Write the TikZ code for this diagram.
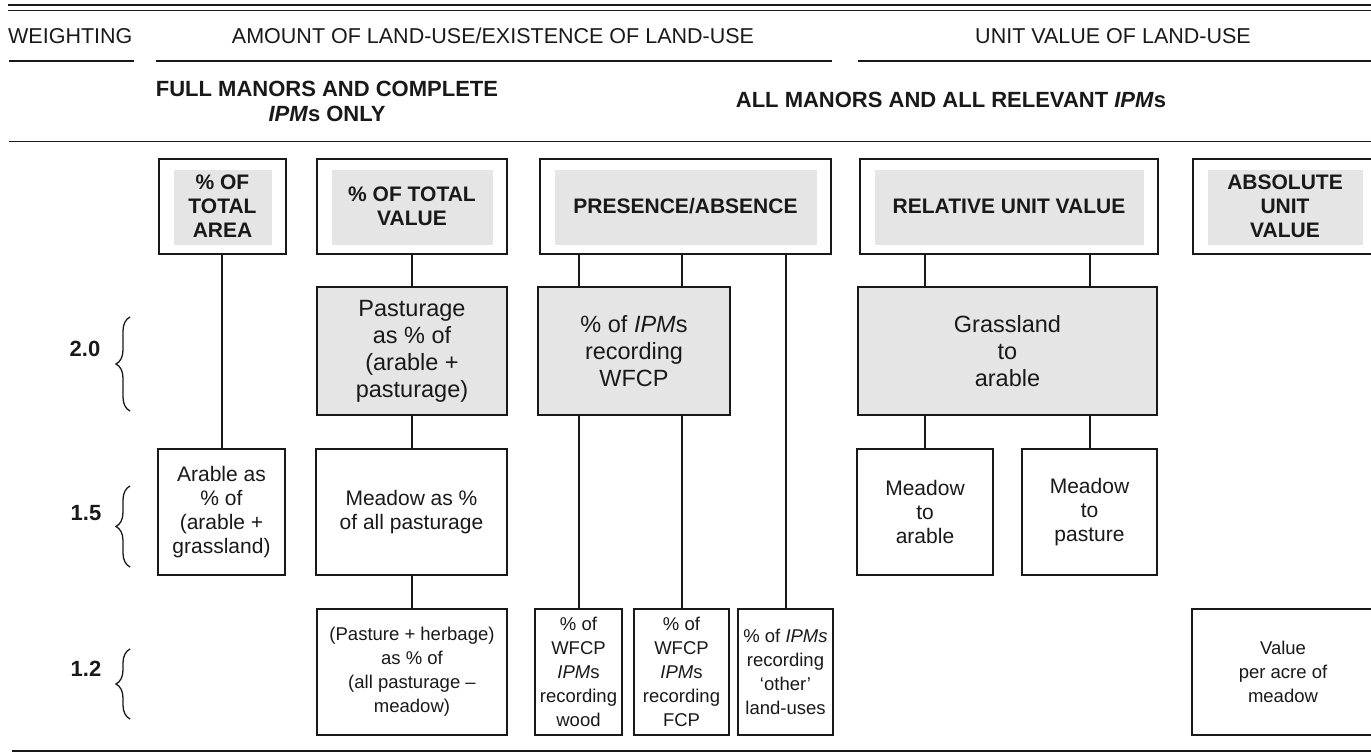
\documentclass[tikz,border=0pt]{standalone}
\usepackage{fontspec}
\setmainfont{Liberation Sans}
\usetikzlibrary{decorations.pathreplacing}
\definecolor{cgrey}{gray}{0.90}
\definecolor{cline}{gray}{0.10}

\begin{document}
\begin{tikzpicture}[
    x=1pt, y=-1pt,
    headtxt/.style={font=\fontsize{21.5}{24}\selectfont, inner sep=0pt, text=cline},
    subtxt/.style={font=\fontsize{22}{24.5}\selectfont\bfseries, align=center,
        inner sep=0pt, text=cline},
    titlebox/.style={draw=cline, line width=2.6pt, fill=white, align=center,
        inner sep=0pt, minimum height=95pt, text=cline,
        font=\fontsize{21}{24}\selectfont\bfseries,
        path picture={\fill[cgrey]
            ([xshift=14.5pt,yshift=9pt]path picture bounding box.south west) rectangle
            ([xshift=-14.5pt,yshift=-11pt]path picture bounding box.north east);}},
    greybox/.style={draw=cline, line width=1.5pt, fill=cgrey, align=center,
        inner sep=0pt, minimum height=128pt, text=cline,
        font=\fontsize{23.5}{27}\selectfont},
    midbox/.style={draw=cline, line width=2.5pt, fill=white, align=center,
        inner sep=0pt, minimum height=126pt, text=cline,
        font=\fontsize{21}{24}\selectfont},
    lowbox/.style={draw=cline, line width=1.1pt, fill=white, align=center,
        inner sep=0pt, minimum height=126pt, text=cline,
        font=\fontsize{18.5}{24}\selectfont},
    stem/.style={draw=cline, line width=2pt},
    sepline/.style={draw=cline, line width=1.5pt},
    wlabel/.style={font=\fontsize{22}{24}\selectfont\bfseries, inner sep=0pt, text=cline},
    wbrace/.style={draw=cline, line width=1.3pt, decorate,
        decoration={brace, amplitude=14pt}}
]
\useasboundingbox (0,0) rectangle (1371,754);
\def\yA{206.5}
\def\yB{351}
\def\yC{512}
\def\yD{672}

%% Rules and headings
\draw[sepline] (8,5) -- (1371,5);
\draw[sepline] (8,10.5) -- (1371,10.5);
\node[headtxt, anchor=base west] (weighting) at (8,43.5) {WEIGHTING};
\node[headtxt, anchor=base] (amount) at (493,43.5) {AMOUNT OF LAND-USE/EXISTENCE OF LAND-USE};
\node[headtxt, anchor=base] (unitval) at (1113,43.5) {UNIT VALUE OF LAND-USE};
\draw[sepline] (9,61) -- (134,61);
\draw[sepline] (156,61) -- (832,61);
\draw[sepline] (858,61) -- (1371,61);
\node[subtxt] (fullman) at (327,101.5) {FULL MANORS AND COMPLETE\\\textit{IPM}s ONLY};
\node[subtxt] (allman) at (951,100) {ALL MANORS AND ALL RELEVANT \textit{IPM}s};
\draw[sepline] (9,141.5) -- (1371,141.5);
\draw[sepline] (12,751) -- (1371,751);

%% Weightings
\node[wlabel] (w20) at (85,349) {2.0};
\draw[wbrace] (130,411) -- (130,317);
\node[wlabel] (w15) at (86,513) {1.5};
\draw[wbrace] (130,567) -- (130,486);
\node[wlabel] (w12) at (86,669) {1.2};
\draw[wbrace] (130,719) -- (130,649);

%% Measures
\node[titlebox, minimum width=127pt] (area)     at (222.5,\yA) {\%~OF\\TOTAL\\AREA};
\node[titlebox, minimum width=190pt] (value)    at (412,\yA)   {\%~OF TOTAL\\VALUE};
\node[titlebox, minimum width=291pt] (presence) at (685.5,\yA) {PRESENCE/ABSENCE};
\node[titlebox, minimum width=298pt] (relative) at (1009,\yA)  {RELATIVE UNIT VALUE};
\node[titlebox, minimum width=184pt] (absolute) at (1285,\yA)  {ABSOLUTE\\UNIT\\VALUE};

%% Weighting 2.0
\node[greybox, minimum width=190pt] (pastshare) at (412,\yB)    {Pasturage\\as \% of\\(arable +\\pasturage)};
\node[greybox, minimum width=192pt] (wfcp)      at (634,\yB)    {\% of \textit{IPM}s\\recording\\WFCP};
\node[greybox, minimum width=299pt] (grass)     at (1007.5,\yB) {Grassland\\to\\arable};

%% Weighting 1.5
\node[midbox, minimum width=127pt] (arable)    at (221.5,\yC)  {Arable as\\\% of\\(arable +\\grassland)};
\node[midbox, minimum width=191pt] (meadow)    at (411.5,\yC)  {Meadow as \%\\of all pasturage};
\node[midbox, minimum width=136pt] (mdarable)  at (925,\yC)    {Meadow\\to\\arable};
\node[midbox, minimum width=135pt] (mdpasture) at (1089.5,\yC) {Meadow\\to\\pasture};

%% Weighting 1.2
\node[lowbox, minimum width=190pt] (pastherb) at (412,\yD)   {(Pasture + herbage)\\as \% of\\(all pasturage --\\meadow)};
\node[lowbox, minimum width=87pt]  (wood)     at (578.5,\yD) {\% of\\WFCP\\\textit{IPM}s\\recording\\wood};
\node[lowbox, minimum width=95pt]  (fcp)      at (681.5,\yD) {\% of\\WFCP\\\textit{IPM}s\\recording\\FCP};
\node[lowbox, minimum width=95pt]  (other)    at (785.5,\yD) {\% of \textit{IPMs}\\recording\\`other'\\land-uses};
\node[lowbox, minimum width=182pt] (peracre)  at (1283,\yD)  {Value\\per acre of\\meadow};

%% Stems
\draw[stem] (arable.north |- area.south) -- (arable.north);
\draw[stem] (value.south) -- (pastshare.north);
\draw[stem] (pastshare.south) -- (pastshare.south |- meadow.north);
\draw[stem] (meadow.south) -- (meadow.south |- pastherb.north);
\draw[stem] (wood.north |- presence.south) -- (wood.north |- wfcp.north);
\draw[stem] (fcp.north |- presence.south) -- (fcp.north |- wfcp.north);
\draw[stem] (wood.north |- wfcp.south) -- (wood.north);
\draw[stem] (fcp.north |- wfcp.south) -- (fcp.north);
\draw[stem] (other.north |- presence.south) -- (other.north);
\draw[stem] (mdarable.north |- relative.south) -- (mdarable.north |- grass.north);
\draw[stem] (mdpasture.north |- relative.south) -- (mdpasture.north |- grass.north);
\draw[stem] (mdarable.north |- grass.south) -- (mdarable.north);
\draw[stem] (mdpasture.north |- grass.south) -- (mdpasture.north);

\end{tikzpicture}
\end{document}
